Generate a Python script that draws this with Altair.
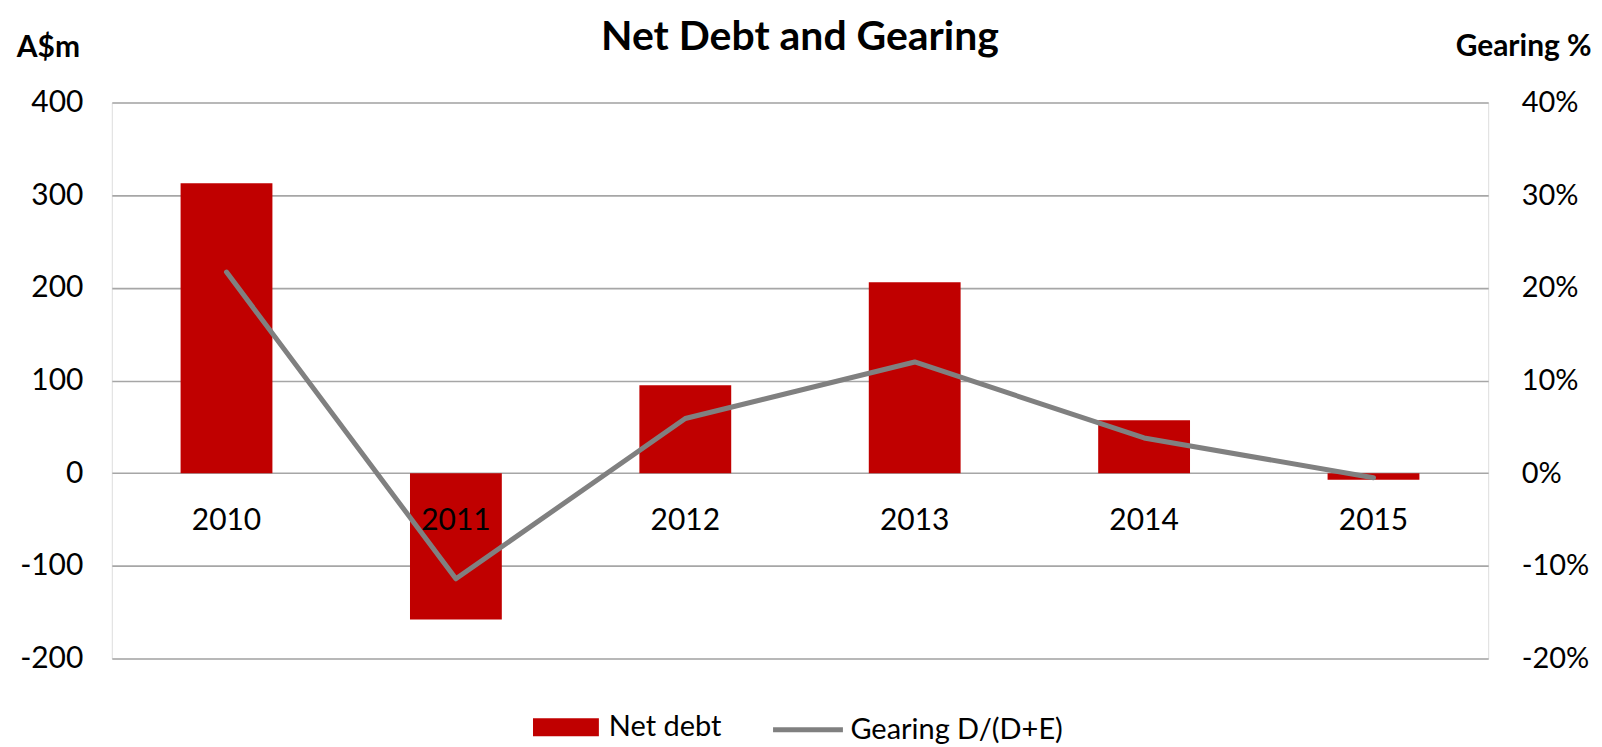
import altair as alt
import pandas as pd

# ---- data ----
years = ["2010", "2011", "2012", "2013", "2014", "2015"]
net_debt = [313, -158, 95, 206, 57, -7]          # A$m
gearing = [0.217, -0.114, 0.059, 0.120, 0.038, -0.005]  # D/(D+E)
bar_name = "Net debt"
line_name = "Gearing D/(D+E)"
left_ticks = [-200, -100, 0, 100, 200, 300, 400]
right_ticks = [-0.2, -0.1, 0.0, 0.1, 0.2, 0.3, 0.4]

df = pd.DataFrame({
    "year": years,
    "net_debt": net_debt,
    "gearing": gearing,
    "s1": [bar_name] * len(years),
    "s2": [line_name] * len(years),
})

W, H = 1379, 557
FONT = "Lato"
zero_from_bottom = H * (0 - left_ticks[0]) / (left_ticks[-1] - left_ticks[0])
HYPHEN = "replace(datum.label, '\u2212', '-')"

x_enc = alt.X(
    "year:N",
    sort=years,
    scale=alt.Scale(paddingInner=0.6, paddingOuter=0.3),
    axis=alt.Axis(
        title=None, orient="bottom", offset=-zero_from_bottom, domain=False,
        ticks=False, tickSize=0, labelPadding=32, labelAngle=0, labelFont=FONT,
        labelFontSize=30, labelColor="#000000", labelBaseline="top", zindex=1,
    ),
)

bars = alt.Chart(df).mark_bar(size=92).encode(
    x=x_enc,
    y=alt.Y(
        "net_debt:Q",
        scale=alt.Scale(domain=[left_ticks[0], left_ticks[-1]], nice=False, zero=False),
        axis=alt.Axis(
            values=left_ticks, title="A$m", titleAngle=0, titleX=-64, titleY=-55,
            titleAlign="center", titleBaseline="middle", titleFont=FONT,
            titleFontSize=30, titleFontWeight="bold", titleColor="#000000",
            domain=False, ticks=False, tickSize=0, labelPadding=29, labelFont=FONT,
            labelFontSize=30, labelColor="#000000", grid=True, gridColor="#a6a6a6",
            gridWidth=1.6, format="d", labelExpr=HYPHEN,
        ),
    ),
    color=alt.Color(
        "s1:N",
        scale=alt.Scale(domain=[bar_name], range=["#C00000"]),
        legend=alt.Legend(
            title=None, orient="none", legendX=422, legendY=593, padding=0,
            symbolType="M-1,-0.273L1,-0.273L1,0.273L-1,0.273Z", symbolSize=4356,
            symbolStrokeWidth=0, symbolOpacity=1, labelFont=FONT, labelFontSize=29,
            labelColor="#000000", labelOffset=10, labelLimit=500,
        ),
    ),
)

line = alt.Chart(df).mark_line(strokeWidth=5, strokeCap="round", strokeJoin="round").encode(
    x=alt.X("year:N", sort=years),
    y=alt.Y(
        "gearing:Q",
        scale=alt.Scale(domain=[right_ticks[0], right_ticks[-1]], nice=False, zero=False),
        axis=alt.Axis(
            orient="right", values=right_ticks, format=".0%", title="Gearing %",
            titleAngle=0, titleX=35, titleY=-56, titleAlign="center",
            titleBaseline="middle", titleFont=FONT, titleFontSize=30,
            titleFontWeight="bold", titleColor="#000000", domain=False, ticks=False,
            tickSize=0, labelPadding=33, labelFont=FONT, labelFontSize=29,
            labelColor="#000000", grid=False, labelExpr=HYPHEN,
        ),
    ),
    stroke=alt.Stroke(
        "s2:N",
        scale=alt.Scale(domain=[line_name], range=["#808080"]),
        legend=alt.Legend(
            title=None, orient="none", legendX=660, legendY=591, padding=0,
            symbolType="stroke", symbolSize=4900, symbolStrokeWidth=5,
            labelFont=FONT, labelFontSize=29, labelColor="#000000", labelOffset=5,
            labelLimit=500,
        ),
    ),
)

chart = (
    alt.layer(bars, line)
    .resolve_scale(y="independent", color="independent", stroke="independent")
    .properties(
        width=W,
        height=H,
        autosize=alt.AutoSizeParams(type="none"),
        padding={"left": 104, "top": 94, "right": 106, "bottom": 88},
        title=alt.TitleParams(
            "Net Debt and Gearing", font=FONT, fontSize=41, fontWeight="bold",
            color="#000000", anchor="middle", offset=-27,
        ),
    )
    .configure_view(stroke="#a6a6a6", strokeWidth=1.6)
    .configure(background="#ffffff")
)

chart.save("out.html", embed_options={"renderer": "svg", "actions": False})
